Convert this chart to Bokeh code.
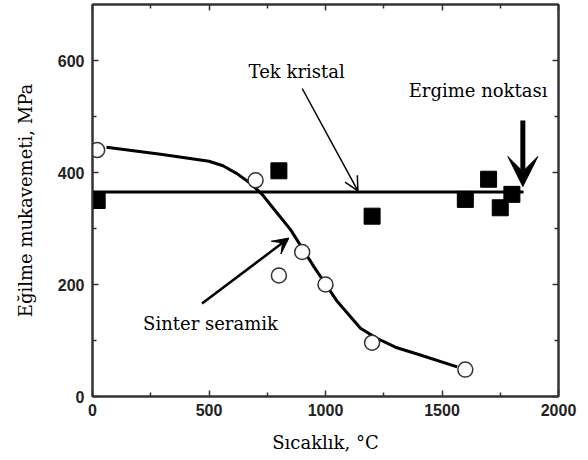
from bokeh.plotting import figure
from bokeh.models import (FixedTicker, LinearAxis, Range1d, Arrow, VeeHead,
                          OpenHead, Label)
from bokeh.embed import file_html
from bokeh.resources import INLINE

# --- data ---
sinter_temp = [20, 700, 800, 900, 1000, 1200, 1600]
sinter_strength = [440, 386, 216, 258, 200, 96, 48]

crystal_temp = [20, 800, 1200, 1600, 1700, 1750, 1800]
crystal_strength = [350, 403, 322, 352, 388, 337, 361]

# fitted curve for sintered ceramic
curve_temp = [60, 300, 500, 560, 620, 680, 730, 780, 850, 950, 1050, 1150, 1220, 1300, 1400, 1565]
curve_strength = [445, 432, 420, 412, 398, 380, 360, 334, 298, 232, 170, 122, 104, 88, 75, 53]

# single crystal fit line
crystal_line_temp = [0, 1850]
crystal_line_strength = [365, 365]

melting_point = 1847

x_ticks = [0, 500, 1000, 1500, 2000]
x_minor = [250, 750, 1250, 1750]
y_ticks = [0, 200, 400, 600]
y_minor = [100, 300, 500]

SERIF = "DejaVu Serif"
SANS = "Liberation Sans"

p = figure(width=588, height=460, output_backend="svg", toolbar_location=None,
           x_range=Range1d(0, 2000), y_range=Range1d(0, 700),
           min_border_left=92, min_border_right=30, min_border_top=4,
           min_border_bottom=64)
p.background_fill_color = "white"
p.border_fill_color = "white"
p.grid.visible = False
p.outline_line_color = "#333333"
p.outline_line_width = 2

for ax, ticks, minor in [(p.xaxis[0], x_ticks, x_minor), (p.yaxis[0], y_ticks, y_minor)]:
    ax.ticker = FixedTicker(ticks=ticks, minor_ticks=minor)
    ax.major_tick_in = 6
    ax.major_tick_out = 0
    ax.minor_tick_in = 4
    ax.minor_tick_out = 0
    ax.axis_line_width = 2
    ax.axis_line_color = "#333333"
    ax.major_tick_line_color = "#333333"
    ax.minor_tick_line_color = "#333333"
    ax.major_tick_line_width = 1.5
    ax.minor_tick_line_width = 1.5
    ax.major_label_text_font = SANS
    ax.major_label_text_font_style = "bold"
    ax.major_label_text_font_size = "16px"
    ax.major_label_text_color = "#222222"
    ax.axis_label_text_font = SERIF
    ax.axis_label_text_font_style = "normal"
    ax.axis_label_text_font_size = "18px"
    ax.axis_label_text_color = "black"

p.xaxis.axis_label = "Sıcaklık, °C"
p.yaxis.axis_label = "Eğilme mukavemeti, MPa"
p.xaxis.major_label_standoff = 7
p.xaxis.axis_label_standoff = 13
p.yaxis.major_label_standoff = 8
p.yaxis.axis_label_standoff = 19

# mirrored axes (ticks only, no labels)
top = LinearAxis(ticker=FixedTicker(ticks=x_ticks, minor_ticks=x_minor))
right = LinearAxis(ticker=FixedTicker(ticks=y_ticks, minor_ticks=y_minor))
for ax, ticks in ((top, x_ticks), (right, y_ticks)):
    ax.major_tick_in = 6
    ax.major_tick_out = 0
    ax.minor_tick_in = 4
    ax.minor_tick_out = 0
    ax.axis_line_width = 2
    ax.axis_line_color = "#333333"
    ax.major_tick_line_color = "#333333"
    ax.minor_tick_line_color = "#333333"
    ax.major_tick_line_width = 1.5
    ax.minor_tick_line_width = 1.5
    ax.major_label_overrides = {t: "" for t in ticks}
    ax.major_label_text_font_size = "1px"
    ax.major_label_standoff = 0
p.add_layout(top, "above")
p.add_layout(right, "right")

# lines
p.line(crystal_line_temp, crystal_line_strength, line_color="black", line_width=3)
p.line(curve_temp, curve_strength, line_color="black", line_width=3)

# markers
p.scatter(crystal_temp, crystal_strength, marker="square", size=16,
          fill_color="black", line_color="black")
p.scatter(sinter_temp, sinter_strength, marker="circle", size=15,
          fill_color="white", line_color="#333333", line_width=1.5)

# annotations
tek_arrow_start = (900, 550)
tek_arrow_end = (1139, 367)
sinter_arrow_start = (470, 166)
sinter_arrow_end = (843, 283)
ergime_arrow_start = (melting_point, 493)
ergime_arrow_end = (melting_point, 375)

p.add_layout(Arrow(x_start=tek_arrow_start[0], y_start=tek_arrow_start[1],
                   x_end=tek_arrow_end[0], y_end=tek_arrow_end[1],
                   line_width=1.5, line_color="black",
                   end=OpenHead(size=14, line_width=1.5, line_color="black")))
p.add_layout(Arrow(x_start=sinter_arrow_start[0], y_start=sinter_arrow_start[1],
                   x_end=sinter_arrow_end[0], y_end=sinter_arrow_end[1],
                   line_width=2.5, line_color="black",
                   end=VeeHead(size=16, fill_color="black", line_color="black")))
p.add_layout(Arrow(x_start=ergime_arrow_start[0], y_start=ergime_arrow_start[1],
                   x_end=ergime_arrow_end[0], y_end=ergime_arrow_end[1],
                   line_width=5, line_color="black",
                   end=VeeHead(size=30, fill_color="black", line_color="black")))

labels = [("Tek kristal", 670, 580), ("Ergime noktası", 1357, 546), ("Sinter seramik", 217, 131)]
for txt, lx, ly in labels:
    p.add_layout(Label(x=lx, y=ly, text=txt, text_font=SERIF, text_font_size="18px",
                       text_font_style="normal",
                       text_baseline="middle", text_align="left", text_color="black"))

open("out.html", "w").write(file_html(p, INLINE))
